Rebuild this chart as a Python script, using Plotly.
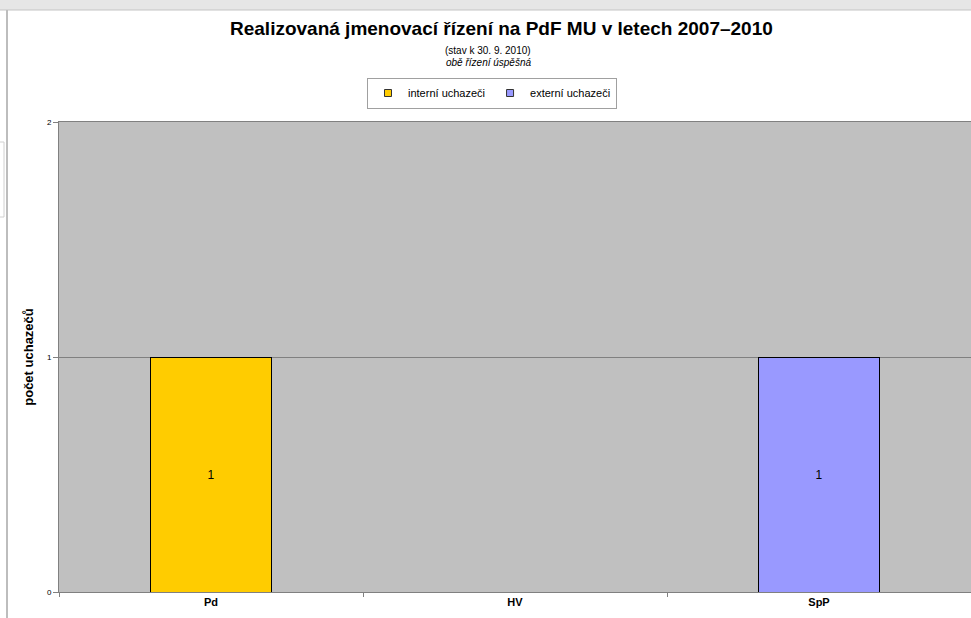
import plotly.graph_objects as go

# data
kategorie = ["Pd", "HV", "SpP"]
interni = [1, 0, 0]
externi = [0, 0, 1]
y_ticks = [0, 1, 2]

titulek = "Realizovaná jmenovací řízení na PdF MU v letech 2007–2010"
podtitulek = "(stav k 30. 9. 2010)"
poznamka = "obě řízení úspěšná"

font_name = "Liberation Sans, Arial, sans-serif"

W, H = 971, 618
L, T, B = 59, 122, 26
PW, PH = W - L, H - T - B


def px_x(x):
    # pixel -> paper x
    return (x - L) / PW


def px_y(y):
    # pixel (from top) -> paper y
    return (H - B - y) / PH


def bar_text(vals):
    return [str(v) if v else "" for v in vals]


fig = go.Figure()
fig.add_trace(go.Bar(x=kategorie, y=interni, name="interní uchazeči", showlegend=False,
                     marker=dict(color="#FFCC00", line=dict(color="#000000", width=1)),
                     text=bar_text(interni), textposition="inside", insidetextanchor="middle",
                     textfont=dict(color="#000000", size=12), width=0.4))
fig.add_trace(go.Bar(x=kategorie, y=externi, name="externí uchazeči", showlegend=False,
                     marker=dict(color="#9999FF", line=dict(color="#000000", width=1)),
                     text=bar_text(externi), textposition="inside", insidetextanchor="middle",
                     textfont=dict(color="#000000", size=12), width=0.4))
# legend keys (small squares like the original)
for nm, col in [("interní uchazeči", "#FFCC00"), ("externí uchazeči", "#9999FF")]:
    fig.add_trace(go.Scatter(x=[None], y=[None], mode="markers", name=nm, showlegend=True,
                             marker=dict(symbol="square", size=7, color=col,
                                         line=dict(color="#333333", width=1))))

fig.update_layout(
    width=W, height=H,
    margin=dict(l=L, r=0, t=T, b=B, autoexpand=False),
    barmode="stack",
    paper_bgcolor="#FFFFFF",
    plot_bgcolor="#C0C0C0",
    font=dict(family=font_name, color="#000000"),
    showlegend=True,
    legend=dict(orientation="h", xref="container", yref="container",
                x=492 / W, xanchor="center", y=1 - 93 / H, yanchor="middle",
                bordercolor="#A0A0A0", borderwidth=1, bgcolor="#FFFFFF",
                font=dict(size=11), itemwidth=30, traceorder="normal"),
    annotations=[
        dict(text="<b>" + titulek + "</b>", xref="paper", yref="paper",
             x=px_x(501), y=px_y(28), yanchor="middle", showarrow=False, font=dict(size=19)),
        dict(text=podtitulek, xref="paper", yref="paper",
             x=px_x(488), y=px_y(50), yanchor="middle", showarrow=False, font=dict(size=10)),
        dict(text="<i>" + poznamka + "</i>", xref="paper", yref="paper",
             x=px_x(488), y=px_y(62), yanchor="middle", showarrow=False, font=dict(size=10)),
    ],
    shapes=[
        # screenshot frame around the chart
        dict(type="rect", xref="paper", yref="paper", x0=px_x(0), x1=1.0,
             y0=px_y(10), y1=px_y(0), fillcolor="#E6E6E6", line=dict(width=0),
             layer="below"),
        dict(type="line", xref="paper", yref="paper", x0=px_x(0), x1=1.0,
             y0=px_y(10), y1=px_y(10), line=dict(color="#C4C4C4", width=1)),
        dict(type="line", xref="paper", yref="paper", x0=px_x(7), x1=px_x(7),
             y0=px_y(H), y1=px_y(10), line=dict(color="#BDBDBD", width=2)),
        dict(type="rect", xref="paper", yref="paper", x0=px_x(-2), x1=px_x(4),
             y0=px_y(217), y1=px_y(142), line=dict(color="#D0D0D0", width=1)),
    ],
)

fig.update_xaxes(type="category", tickson="boundaries", ticks="outside", ticklen=4,
                 tickcolor="#808080", showline=True, linecolor="#808080", linewidth=1,
                 mirror=True, tickfont=dict(size=11), tickprefix="<b>", ticksuffix="</b>",
                 showgrid=False, automargin=False)
fig.update_yaxes(range=[0, 2], tickvals=y_ticks, ticks="outside", ticklen=5,
                 tickcolor="#808080", showline=True, linecolor="#808080", linewidth=1,
                 mirror=True, showgrid=True, gridcolor="#808080", gridwidth=1,
                 tickfont=dict(size=8), zeroline=False, automargin=False,
                 title=dict(text="<b>počet uchazečů</b>", font=dict(size=13), standoff=10))

fig.write_html("out.html", config={"displayModeBar": False},
               post_script="document.body.style.margin='0';")
